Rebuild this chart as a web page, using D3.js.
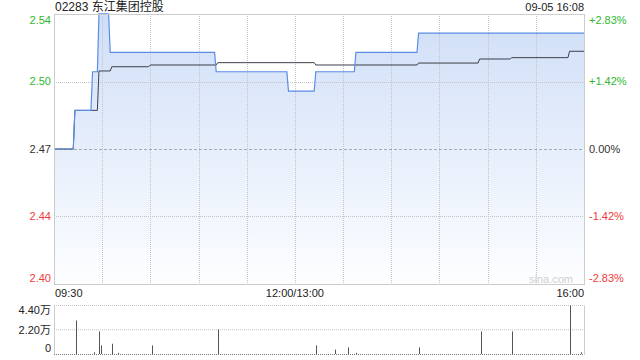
<!DOCTYPE html>
<html>
<head>
<meta charset="utf-8">
<script src="https://cdn.jsdelivr.net/npm/d3@7"></script>
<style>
  body { margin: 0; background: #fff; }
  svg text { font-family: "Liberation Sans", Arial, "Noto Sans CJK SC", sans-serif; }
</style>
</head>
<body>
<svg id="chart"></svg>
<script>
// time is minutes since 09:30, lunch break removed (0..330)
const title = '02283 东江集团控股';
const stamp = '09-05 16:08';
const prevClose = 2.47;
const rangePct = 0.0283;

// price steps: start minute, price
const priceStart = [0, 13, 24, 28, 35, 101, 146, 163, 188, 227];
const priceValue = [2.47, 2.49, 2.51, 2.54, 2.52, 2.51, 2.50, 2.51, 2.52, 2.53];

// average price steps
const avgStart = [0, 13, 28, 36, 60, 102, 163, 227, 265, 285, 321];
const avgValue = [2.47, 2.490, 2.5104, 2.5126, 2.5135, 2.5147, 2.5135, 2.5145, 2.5166, 2.5173, 2.5206];

// volume bars
const volMinute = [14, 25, 28, 29, 36, 40, 61, 102, 163, 175, 183, 188, 227, 266, 285, 321, 328];
const volValue = [30400, 1500, 20500, 7800, 9300, 1000, 7800, 22300, 7800, 3900, 6000, 1000, 6000, 20500, 20500, 44000, 1500];

const priceTicks = ['2.54', '2.50', '2.47', '2.44', '2.40'];
const pctTicks = ['+2.83%', '+1.42%', '0.00%', '-1.42%', '-2.83%'];
const volTicks = ['4.40万', '2.20万', '0'];
const timeTicks = [[0, '09:30'], [150, '12:00/13:00'], [330, '16:00']];

const W = 640, H = 360;
const plot = {left: 54, right: 584, top: 14, bottom: 284};
const volPlot = {top: 305.5, bottom: 354};
const green = '#2eb82e', red = '#f03a3a', grey = '#333';

const svg = d3.select('#chart').attr('width', W).attr('height', H);

const x = d3.scaleLinear().domain([0, 330]).range([plot.left, plot.right]);
const span = prevClose * rangePct;
const y = d3.scaleLinear().domain([prevClose - span, prevClose + span]).range([plot.bottom, plot.top]);
const yv = d3.scaleLinear().domain([0, 44000]).range([volPlot.bottom, volPlot.top]);

// turn step lists into line points (each level held until the minute before the next one)
function steps(starts, values) {
  const pts = [];
  starts.forEach((s, i) => {
    const end = i < starts.length - 1 ? starts[i + 1] - 1 : 330;
    pts.push([s, values[i]]);
    if (end > s) pts.push([end, values[i]]);
  });
  return pts;
}
const pricePts = steps(priceStart, priceValue);
const avgPts = steps(avgStart, avgValue);

// gradient for the area
const defs = svg.append('defs');
const grad = defs.append('linearGradient').attr('id', 'fillGrad')
  .attr('x1', 0).attr('y1', 0).attr('x2', 0).attr('y2', 1);
grad.append('stop').attr('offset', '0%').attr('stop-color', '#cfdef7');
grad.append('stop').attr('offset', '100%').attr('stop-color', '#fdfeff');

// area + lines
svg.append('path')
  .datum(pricePts)
  .attr('d', d3.area().x(d => x(d[0])).y0(plot.bottom).y1(d => y(d[1])))
  .attr('fill', 'url(#fillGrad)');

// grid
const gridX = d3.range(30, 330, 30);
svg.append('g').selectAll('line').data(gridX).enter().append('line')
  .attr('x1', d => Math.round(x(d)) + 0.5).attr('x2', d => Math.round(x(d)) + 0.5)
  .attr('y1', plot.top).attr('y2', plot.bottom)
  .attr('stroke', '#c4c4c4').attr('stroke-dasharray', '1,1');

const gridY = [prevClose + span / 2, prevClose - span / 2];
svg.append('g').selectAll('line').data(gridY).enter().append('line')
  .attr('x1', plot.left).attr('x2', plot.right)
  .attr('y1', d => Math.round(y(d)) + 0.5).attr('y2', d => Math.round(y(d)) + 0.5)
  .attr('stroke', '#c4c4c4').attr('stroke-dasharray', '1,1');

svg.append('line')
  .attr('x1', plot.left).attr('x2', plot.right)
  .attr('y1', Math.round(y(prevClose)) + 0.5).attr('y2', Math.round(y(prevClose)) + 0.5)
  .attr('stroke', '#aaa').attr('stroke-dasharray', '3,2');

svg.append('path')
  .datum(avgPts)
  .attr('d', d3.line().x(d => x(d[0])).y(d => y(d[1])))
  .attr('fill', 'none').attr('stroke', '#3c3f48').attr('stroke-width', 1);

svg.append('path')
  .datum(pricePts)
  .attr('d', d3.line().x(d => x(d[0])).y(d => y(d[1])))
  .attr('fill', 'none').attr('stroke', '#5b8de6').attr('stroke-width', 1.2);

// border of the price panel
svg.append('rect')
  .attr('x', plot.left + 0.5).attr('y', plot.top + 0.5)
  .attr('width', plot.right - plot.left).attr('height', plot.bottom - plot.top)
  .attr('fill', 'none').attr('stroke', '#ccc');

// watermark
svg.append('text')
  .attr('x', 573).attr('y', 283)
  .attr('text-anchor', 'end')
  .style('font-size', '11px').style('fill', '#d0d0d0')
  .text('sina.com');

// title + time stamp
svg.append('text').attr('x', 55).attr('y', 11)
  .style('font-size', '12px').style('fill', '#222')
  .style('font-family', '"Liberation Sans", "Noto Sans CJK SC", sans-serif')
  .text(title);
svg.append('text').attr('x', 584).attr('y', 11).attr('text-anchor', 'end')
  .style('font-size', '11px').style('fill', '#222').text(stamp);

// price labels, left and right
const labelY = [plot.top + 6, y(prevClose + span / 2), y(prevClose), y(prevClose - span / 2), plot.bottom - 6];
const labelColor = [green, green, grey, red, red];
svg.append('g').selectAll('text').data(priceTicks).enter().append('text')
  .attr('x', 51).attr('y', (d, i) => labelY[i]).attr('dy', '0.35em')
  .attr('text-anchor', 'end')
  .style('font-size', '11px').style('fill', (d, i) => labelColor[i])
  .text(d => d);
svg.append('g').selectAll('text').data(pctTicks).enter().append('text')
  .attr('x', 589).attr('y', (d, i) => labelY[i]).attr('dy', '0.35em')
  .style('font-size', '11px').style('fill', (d, i) => labelColor[i])
  .text(d => d);

// time labels
svg.append('g').selectAll('text').data(timeTicks).enter().append('text')
  .attr('x', d => x(d[0]) + (d[0] === 0 ? 1 : 0))
  .attr('y', 297)
  .attr('text-anchor', d => d[0] === 0 ? 'start' : (d[0] === 330 ? 'end' : 'middle'))
  .style('font-size', '11px').style('fill', '#222')
  .text(d => d[1]);

// volume panel
svg.append('g').selectAll('line').data([44000, 22000]).enter().append('line')
  .attr('x1', plot.left).attr('x2', plot.right)
  .attr('y1', d => yv(d)).attr('y2', d => yv(d))
  .attr('stroke', '#c4c4c4').attr('stroke-dasharray', '1,1');
svg.append('line')
  .attr('x1', plot.left + 0.5).attr('x2', plot.left + 0.5)
  .attr('y1', volPlot.top).attr('y2', volPlot.bottom + 1)
  .attr('stroke', '#ccc');
svg.append('line')
  .attr('x1', plot.right + 0.5).attr('x2', plot.right + 0.5)
  .attr('y1', volPlot.top).attr('y2', volPlot.bottom + 1)
  .attr('stroke', '#ccc');
svg.append('line')
  .attr('x1', plot.left).attr('x2', plot.right)
  .attr('y1', volPlot.bottom + 0.5).attr('y2', volPlot.bottom + 0.5)
  .attr('stroke', '#777').attr('stroke-dasharray', '1,1');

svg.append('g').selectAll('line').data(volMinute).enter().append('line')
  .attr('x1', d => Math.round(x(d)) + 0.5).attr('x2', d => Math.round(x(d)) + 0.5)
  .attr('y1', volPlot.bottom)
  .attr('y2', (d, i) => yv(volValue[i]))
  .attr('stroke', '#555').attr('stroke-width', 1);

const volLabelY = [volPlot.top + 5, yv(22000), volPlot.bottom - 6];
svg.append('g').selectAll('text').data(volTicks).enter().append('text')
  .attr('x', 51).attr('y', (d, i) => volLabelY[i]).attr('dy', '0.35em')
  .attr('text-anchor', 'end')
  .style('font-size', '11px').style('fill', '#222')
  .style('font-family', '"Liberation Sans", "Noto Sans CJK SC", sans-serif')
  .text(d => d);
</script>
</body>
</html>
